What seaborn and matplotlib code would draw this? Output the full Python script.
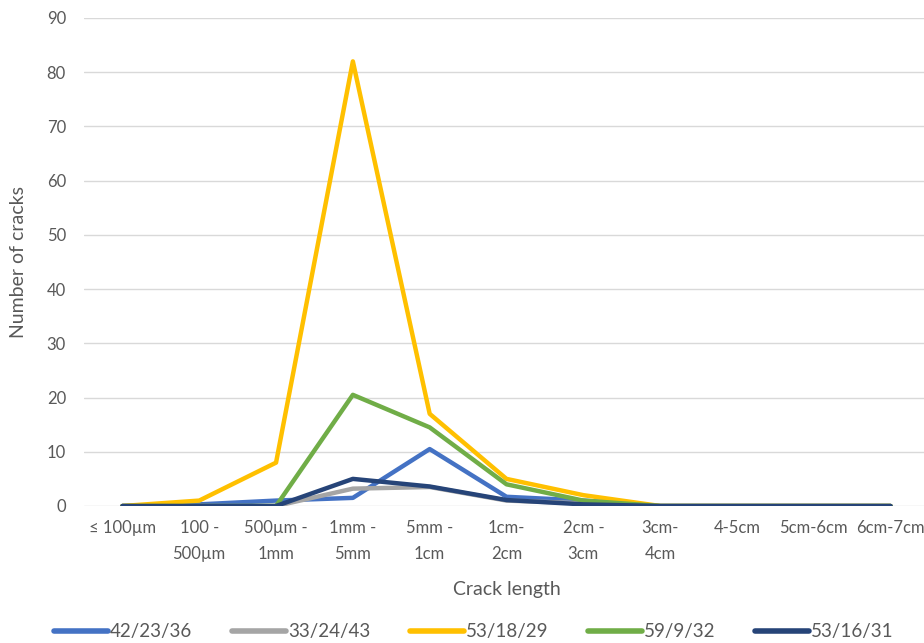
import matplotlib
matplotlib.use("Agg")
import matplotlib.pyplot as plt
from matplotlib.lines import Line2D
import seaborn as sns
import pandas as pd

# Crack length classes
categories = ["≤ 100µm", "100 -\n500µm", "500µm -\n1mm", "1mm -\n5mm", "5mm -\n1cm",
              "1cm-\n2cm", "2cm -\n3cm", "3cm-\n4cm", "4-5cm", "5cm-6cm", "6cm-7cm"]

# Number of cracks per mixture
s_42_23_36 = [0, 0.3, 1, 1.5, 10.5, 1.7, 1, 0, 0, 0, 0]
s_33_24_43 = [0, 0, 0, 3.2, 3.5, 1, 0.5, 0, 0, 0, 0]
s_53_18_29 = [0, 1, 8, 82, 17, 5, 2, 0, 0, 0, 0]
s_59_9_32 = [0, 0, 0, 20.5, 14.5, 4, 1, 0, 0, 0, 0]
s_53_16_31 = [0, 0, 0, 5, 3.6, 1.1, 0.3, 0, 0, 0, 0]

series_names = ["42/23/36", "33/24/43", "53/18/29", "59/9/32", "53/16/31"]
series_values = [s_42_23_36, s_33_24_43, s_53_18_29, s_59_9_32, s_53_16_31]
palette = ["#4472C4", "#A5A5A5", "#FFC000", "#70AD47", "#264478"]

rows = []
for name, vals in zip(series_names, series_values):
    for cat, v in zip(categories, vals):
        rows.append({"Crack length": cat, "Number of cracks": v, "series": name})
df = pd.DataFrame(rows)
df["Crack length"] = pd.Categorical(df["Crack length"], categories=categories, ordered=True)
df["x"] = df["Crack length"].cat.codes

sns.set_theme(style="white")
plt.rcParams["font.family"] = ["Lato", "DejaVu Sans"]
text_color = "#595959"

fig = plt.figure(figsize=(9.24, 6.43), dpi=100)
ax = fig.add_axes([84 / 924, 1 - 506 / 643, (929 - 84) / 924, (506 - 18) / 643])

sns.lineplot(data=df, x="x", y="Number of cracks", hue="series", hue_order=series_names,
             palette=palette, linewidth=3.2, ax=ax, legend=False, sort=False,
             solid_capstyle="round", zorder=3)

ax.set_xlim(-0.5, len(categories) - 0.5)
ax.set_ylim(0, 90)
ax.set_yticks(range(0, 91, 10))
ax.set_xticks(range(len(categories)))
ax.set_xticklabels(categories, linespacing=1.75, va="top")
ax.yaxis.grid(True, color="#D9D9D9", linewidth=1.0)
ax.set_axisbelow(True)
for sp in ax.spines.values():
    sp.set_visible(False)
ax.tick_params(axis="both", length=0, labelsize=12, colors=text_color)
ax.tick_params(axis="x", pad=10)
ax.tick_params(axis="y", pad=13)

ax.set_xlabel("Crack length", fontsize=14, color=text_color, labelpad=14)
ax.set_ylabel("Number of cracks", fontsize=14, color=text_color, labelpad=14)

handles = [Line2D([0], [0], color=c, linewidth=4, solid_capstyle="round") for c in palette]
fig.legend(handles, series_names, loc="center left", bbox_to_anchor=(54 / 924, 1 - 632 / 643),
           ncol=5, frameon=False, fontsize=13.5, handlelength=2.9, handletextpad=0.1,
           columnspacing=2.1, borderpad=0, borderaxespad=0, labelcolor=text_color)

fig.savefig("out.png", dpi=100)
